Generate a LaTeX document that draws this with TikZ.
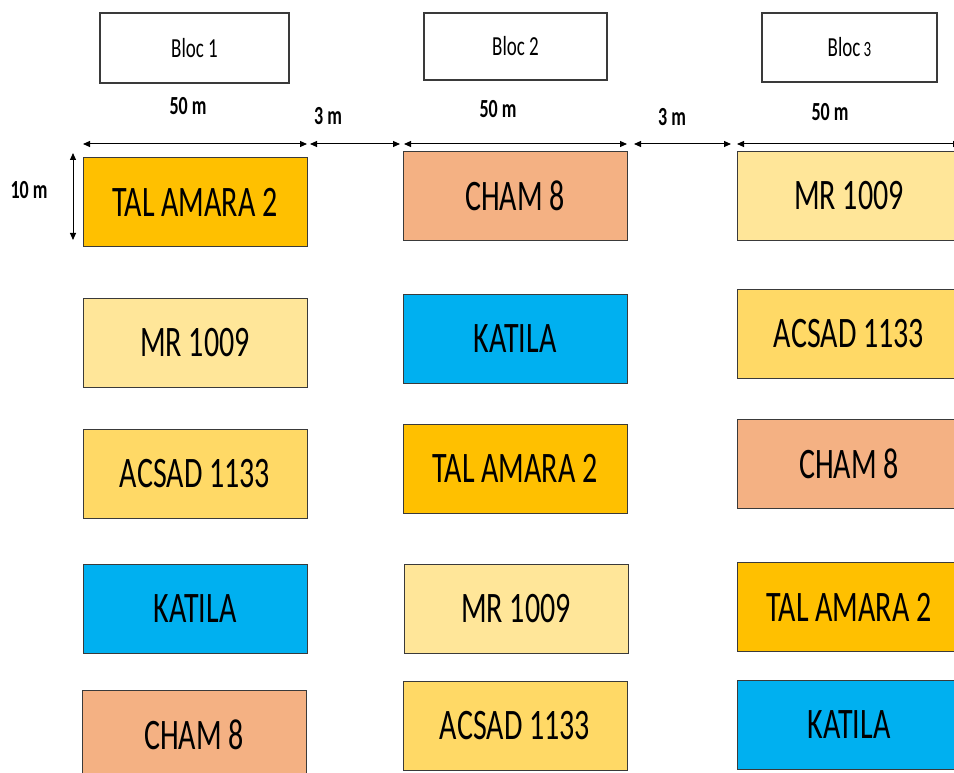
\documentclass[tikz,border=0pt]{standalone}
\usepackage{fontspec}
\setmainfont{Carlito}
\usetikzlibrary{arrows.meta}
\definecolor{talc}{HTML}{FFC000}
\definecolor{chamc}{HTML}{F4B183}
\definecolor{mrc}{HTML}{FFE699}
\definecolor{acsc}{HTML}{FFD966}
\definecolor{katc}{HTML}{00B0F0}
\definecolor{edgec}{HTML}{3A3A3A}
\newcommand\stretchtxt[1]{\scalebox{1}[1.45]{#1}}
\tikzset{
  plotbox/.style={draw=edgec, line width=1pt, minimum width=224pt, minimum height=89pt, inner sep=0pt,
    font=\fontsize{30}{30}\selectfont},
  blocbox/.style={draw=edgec, line width=1.1pt, inner sep=0pt, font=\fontsize{19}{19}\selectfont},
  dimlabel/.style={font=\fontsize{18}{18}\selectfont\bfseries, inner sep=0pt},
  dimarrow/.style={line width=1pt, {Triangle[length=7pt,width=6pt]}-{Triangle[length=7pt,width=6pt]}}
}
\begin{document}
\begin{tikzpicture}[x=1pt,y=-1pt]
\useasboundingbox (0,0) rectangle (954,773);
\clip (0,0) rectangle (954,773);
\fill[white] (0,0) rectangle (954,773);
% bloc headers
\node[blocbox, minimum width=189pt, minimum height=70pt] (b1) at (194.5,48) {\stretchtxt{Bloc 1}};
\node[blocbox, minimum width=183pt, minimum height=67pt] (b2) at (515.5,46.5) {\stretchtxt{Bloc 2}};
\node[blocbox, minimum width=175pt, minimum height=69pt] (b3) at (849.5,47.5) {\stretchtxt{Bloc\,{\fontsize{15}{15}\selectfont 3}}};
% dimension labels
\node[dimlabel] (l50a) at (188,106) {\stretchtxt{50 m}};
\node[dimlabel] (l3a) at (328,116) {\stretchtxt{3 m}};
\node[dimlabel] (l50b) at (498,109) {\stretchtxt{50 m}};
\node[dimlabel] (l3b) at (672,117) {\stretchtxt{3 m}};
\node[dimlabel] (l50c) at (830,112) {\stretchtxt{50 m}};
\node[dimlabel] (l10) at (29,190) {\stretchtxt{10 m}};
% column 1
\node[plotbox, fill=talc]  (c1r1) at (195,202) {\stretchtxt{TAL AMARA 2}};
\node[plotbox, fill=mrc]   (c1r2) at (195,343) {\stretchtxt{MR 1009}};
\node[plotbox, fill=acsc]  (c1r3) at (195,474) {\stretchtxt{ACSAD 1133}};
\node[plotbox, fill=katc]  (c1r4) at (195,609) {\stretchtxt{KATILA}};
\node[plotbox, fill=chamc] (c1r5) at (194,734.5) {\stretchtxt{CHAM 8}};
% column 2
\node[plotbox, fill=chamc] (c2r1) at (515,196) {\stretchtxt{CHAM 8}};
\node[plotbox, fill=katc]  (c2r2) at (515,339) {\stretchtxt{KATILA}};
\node[plotbox, fill=talc]  (c2r3) at (515,468.5) {\stretchtxt{TAL AMARA 2}};
\node[plotbox, fill=mrc]   (c2r4) at (516,609) {\stretchtxt{MR 1009}};
\node[plotbox, fill=acsc]  (c2r5) at (515,726) {\stretchtxt{ACSAD 1133}};
% column 3
\node[plotbox, fill=mrc]   (c3r1) at (849,196) {\stretchtxt{MR 1009}};
\node[plotbox, fill=acsc]  (c3r2) at (849,334) {\stretchtxt{ACSAD 1133}};
\node[plotbox, fill=chamc] (c3r3) at (849,464) {\stretchtxt{CHAM 8}};
\node[plotbox, fill=talc]  (c3r4) at (849,607) {\stretchtxt{TAL AMARA 2}};
\node[plotbox, fill=katc]  (c3r5) at (849,725) {\stretchtxt{KATILA}};
% dimension arrow end points
\coordinate (w1l) at (83,144);
\coordinate (w1r) at (307,144);
\coordinate (g1l) at (310,144);
\coordinate (g1r) at (400,144);
\coordinate (w2l) at (404,144);
\coordinate (w2r) at (627,144);
\coordinate (g2l) at (634,144);
\coordinate (g2r) at (731,144);
\coordinate (w3l) at (737,144);
\coordinate (w3r) at (960,144);
\coordinate (ht) at (73,153);
\coordinate (hb) at (73,240);
\draw[dimarrow] (w1l) -- (w1r);
\draw[dimarrow] (g1l) -- (g1r);
\draw[dimarrow] (w2l) -- (w2r);
\draw[dimarrow] (g2l) -- (g2r);
\draw[dimarrow] (w3l) -- (w3r);
\draw[dimarrow] (ht) -- (hb);
\end{tikzpicture}
\end{document}
